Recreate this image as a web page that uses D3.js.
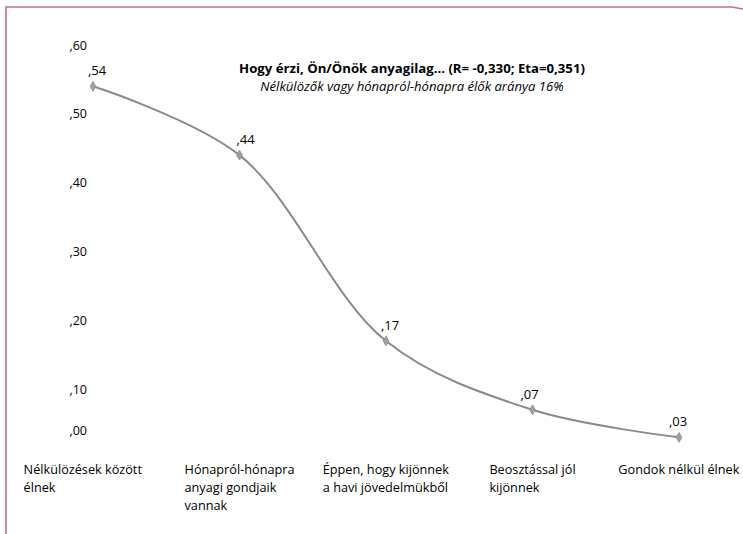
<!DOCTYPE html>
<html>
<head>
<meta charset="utf-8">
<script src="https://cdn.jsdelivr.net/npm/d3@7"></script>
<style>
  html, body { margin: 0; padding: 0; background: #fff; }
  svg { display: block; }
  text { font-family: "Open Sans", "Noto Sans", sans-serif; fill: #000; }
</style>
</head>
<body>
<svg id="chart" width="743" height="534"></svg>
<script>
// Categories (multi-line labels) and the share per category
const categories = [
  ["Nélkülözések között", "élnek"],
  ["Hónapról-hónapra", "anyagi gondjaik", "vannak"],
  ["Éppen, hogy kijönnek", "a havi jövedelmükből"],
  ["Beosztással jól", "kijönnek"],
  ["Gondok nélkül élnek"]
];
const values = [0.54, 0.44, 0.17, 0.07, 0.03];
const valueLabels = [",54", ",44", ",17", ",07", ",03"];
const yTicks = [0, 0.1, 0.2, 0.3, 0.4, 0.5, 0.6];
const yTickLabels = [",00", ",10", ",20", ",30", ",40", ",50", ",60"];
const titleText = "Hogy érzi, Ön/Önök anyagilag... (R= -0,330; Eta=0,351)";
const subtitleText = "Nélkülözők vagy hónapról-hónapra élők aránya 16%";

const svg = d3.select("#chart");
const keys = categories.map((c, i) => "c" + i);

const x = d3.scalePoint().domain(keys).range([93, 679]);
const y = d3.scaleLinear().domain([0, 0.6]).range([458, 45]);

// Frame lines (top and left)
svg.append("path")
  .attr("d", "M6,534 L6,7 L732,7 L743,9")
  .attr("fill", "none")
  .attr("stroke", "#c76a93")
  .attr("stroke-width", 1.6);

// Y axis: labels only
const yAxis = d3.axisLeft(y)
  .tickValues(yTicks)
  .tickFormat((d, i) => yTickLabels[i])
  .tickSize(0)
  .tickPadding(0);
const gy = svg.append("g").attr("transform", "translate(87,0)").call(yAxis);
gy.select(".domain").remove();
gy.selectAll("text")
  .attr("font-family", "Open Sans, sans-serif")
  .attr("font-size", 12.5)
  .attr("fill", "#000")
  .attr("dy", (d) => d === 0 ? "-1.85em" : "0.32em");

// Title
svg.append("text")
  .attr("x", 412).attr("y", 73)
  .attr("text-anchor", "middle")
  .attr("font-size", 13.2)
  .attr("font-weight", "bold")
  .text(titleText);
svg.append("text")
  .attr("x", 412).attr("y", 91)
  .attr("text-anchor", "middle")
  .attr("font-size", 13.1)
  .attr("font-style", "italic")
  .text(subtitleText);

// Smoothed line
const line = d3.line()
  .x((d, i) => x(keys[i]))
  .y((d) => y(d))
  .curve(d3.curveCatmullRom.alpha(0.5));

svg.append("path")
  .datum(values)
  .attr("d", line)
  .attr("fill", "none")
  .attr("stroke", "#8a8a8a")
  .attr("stroke-width", 2);

// Markers
svg.selectAll(".marker")
  .data(values)
  .enter().append("path")
  .attr("class", "marker")
  .attr("d", d3.symbol().type(d3.symbolDiamond).size(28))
  .attr("transform", (d, i) => `translate(${x(keys[i])},${y(d)})`)
  .attr("fill", "#a0a0a0")
  .attr("stroke", "#8a8a8a")
  .attr("stroke-width", 0.8);

// Value labels
const labelShift = [4, 6, 4, -3, -1];
svg.selectAll(".vlabel")
  .data(values)
  .enter().append("text")
  .attr("class", "vlabel")
  .attr("x", (d, i) => x(keys[i]) + labelShift[i])
  .attr("y", (d) => y(d) - 11)
  .attr("text-anchor", "middle")
  .attr("font-size", 13)
  .text((d, i) => valueLabels[i]);

// Category labels: left-aligned lines, block centred on the category
const catShift = [-10, 0, 0, 0, 0];
categories.forEach((lines, i) => {
  const g = svg.append("g");
  const t = g.append("text").attr("font-size", 12.7);
  lines.forEach((ln, j) => {
    t.append("tspan")
      .attr("x", 0)
      .attr("y", 474 + j * 18)
      .text(ln);
  });
  const w = t.node().getBBox().width;
  g.attr("transform", `translate(${x(keys[i]) - w / 2 + catShift[i]},0)`);
});
</script>
</body>
</html>
